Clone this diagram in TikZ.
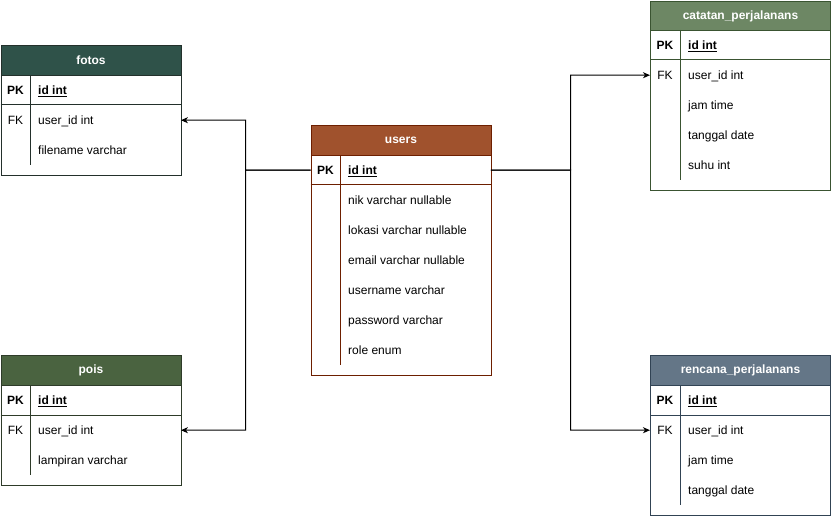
\documentclass[tikz,border=0pt]{standalone}
\usepackage{fontspec}
\setmainfont{Liberation Sans}
\usetikzlibrary{arrows.meta}
\definecolor{fotosH}{HTML}{2F5249}
\definecolor{fotosS}{HTML}{23302B}
\definecolor{poisH}{HTML}{4A6340}
\definecolor{poisS}{HTML}{2E3B29}
\definecolor{usersH}{HTML}{A0522D}
\definecolor{usersS}{HTML}{6D1F00}
\definecolor{catH}{HTML}{6D8764}
\definecolor{catS}{HTML}{3A5431}
\definecolor{renH}{HTML}{647687}
\definecolor{renS}{HTML}{314354}
\tikzset{
  every node/.style={font=\fontsize{12}{14}\selectfont, inner sep=0pt, text=black},
  tbl/.style={draw=#1, line width=1pt, minimum width=180pt, anchor=north west},
  hdr/.style={draw=#1, line width=1pt, minimum width=180pt, minimum height=30pt, anchor=north west},
  hdrtext/.style={text=white, font=\fontsize{12}{14}\selectfont\bfseries},
  rowbox/.style={minimum width=180pt, minimum height=30pt, anchor=north west},
  keylbl/.style={anchor=base},
  pklbl/.style={anchor=base, font=\fontsize{12}{14}\selectfont\bfseries},
  fld/.style={anchor=base west},
  sep/.style={draw=#1, line width=1pt},
  rel/.style={draw=black, line width=1pt, -{Stealth[length=7pt,width=6pt,inset=2pt]}}
}
\begin{document}
\begin{tikzpicture}[x=1pt,y=-1pt]
\useasboundingbox (0,0) rectangle (831,516);

% ---------- fotos ----------
\node[tbl=fotosS, fill=white, minimum height=130pt] (fotos) at (0.5,45) {};
\node[hdr=fotosS, fill=fotosH] (fotos-h) at (0.5,45) {};
\node[hdrtext] at (fotos-h.center) {fotos};
\node[rowbox] (fotos-pk) at (0.5,75) {};
\node[rowbox] (fotos-fk) at (0.5,105) {};
\draw[sep=fotosS] (0.5,105) -- (180.5,105);
\draw[sep=fotosS] (30.5,75) -- (30.5,165);
\node[pklbl] at (15.5,94.5) {PK};
\node[fld, font=\fontsize{12}{14}\selectfont\bfseries] at (38,94.5) {\underline{id int}};
\node[keylbl] at (15.5,124.5) {FK};
\node[fld] at (38,124.5) {user\_id int};
\node[fld] at (38,154.5) {filename varchar};

% ---------- pois ----------
\node[tbl=poisS, fill=white, minimum height=130pt] (pois) at (0.5,355) {};
\node[hdr=poisS, fill=poisH] (pois-h) at (0.5,355) {};
\node[hdrtext] at (pois-h.center) {pois};
\node[rowbox] (pois-pk) at (0.5,385) {};
\node[rowbox] (pois-fk) at (0.5,415) {};
\draw[sep=poisS] (0.5,415) -- (180.5,415);
\draw[sep=poisS] (30.5,385) -- (30.5,475);
\node[pklbl] at (15.5,404.5) {PK};
\node[fld, font=\fontsize{12}{14}\selectfont\bfseries] at (38,404.5) {\underline{id int}};
\node[keylbl] at (15.5,434.5) {FK};
\node[fld] at (38,434.5) {user\_id int};
\node[fld] at (38,464.5) {lampiran varchar};

% ---------- users ----------
\node[tbl=usersS, fill=white, minimum height=250pt] (users) at (310.5,125) {};
\node[hdr=usersS, fill=usersH] (users-h) at (310.5,125) {};
\node[hdrtext] at (users-h.center) {users};
\node[rowbox] (users-pk) at (310.5,155) {};
\draw[sep=usersS] (310.5,185) -- (490.5,185);
\draw[sep=usersS] (340.5,155) -- (340.5,365);
\node[pklbl] at (325.5,174.5) {PK};
\node[fld, font=\fontsize{12}{14}\selectfont\bfseries] at (348,174.5) {\underline{id int}};
\node[fld] at (348,204.5) {nik varchar nullable};
\node[fld] at (348,234.5) {lokasi varchar nullable};
\node[fld] at (348,264.5) {email varchar nullable};
\node[fld] at (348,294.5) {username varchar};
\node[fld] at (348,324.5) {password varchar};
\node[fld] at (348,354.5) {role enum};

% ---------- catatan_perjalanans ----------
\node[tbl=catS, fill=white, minimum height=189.5pt] (cat) at (650,1) {};
\node[hdr=catS, fill=catH, minimum height=29pt] (cat-h) at (650,1) {};
\node[hdrtext] at (cat-h.center) {catatan\_perjalanans};
\node[rowbox] (cat-pk) at (650,30) {};
\node[rowbox] (cat-fk) at (650,60) {};
\draw[sep=catS] (650,60) -- (830,60);
\draw[sep=catS] (680,30) -- (680,180);
\node[pklbl] at (665,49.5) {PK};
\node[fld, font=\fontsize{12}{14}\selectfont\bfseries] at (688,49.5) {\underline{id int}};
\node[keylbl] at (665,79.5) {FK};
\node[fld] at (688,79.5) {user\_id int};
\node[fld] at (688,109.5) {jam time};
\node[fld] at (688,139.5) {tanggal date};
\node[fld] at (688,169.5) {suhu int};

% ---------- rencana_perjalanans ----------
\node[tbl=renS, fill=white, minimum height=160pt] (ren) at (650,355) {};
\node[hdr=renS, fill=renH] (ren-h) at (650,355) {};
\node[hdrtext] at (ren-h.center) {rencana\_perjalanans};
\node[rowbox] (ren-pk) at (650,385) {};
\node[rowbox] (ren-fk) at (650,415) {};
\draw[sep=renS] (650,415) -- (830,415);
\draw[sep=renS] (680,385) -- (680,505);
\node[pklbl] at (665,404.5) {PK};
\node[fld, font=\fontsize{12}{14}\selectfont\bfseries] at (688,404.5) {\underline{id int}};
\node[keylbl] at (665,434.5) {FK};
\node[fld] at (688,434.5) {user\_id int};
\node[fld] at (688,464.5) {jam time};
\node[fld] at (688,494.5) {tanggal date};

% ---------- relations ----------
\coordinate (lj) at (245.5,170);
\coordinate (rj) at (570.5,170);
\draw[rel] (users-pk.west) -- (lj) |- (fotos-fk.east);
\draw[rel] (users-pk.west) -- (lj) |- (pois-fk.east);
\draw[rel] (users-pk.east) -- (rj) |- (cat-fk.west);
\draw[rel] (users-pk.east) -- (rj) |- (ren-fk.west);
\end{tikzpicture}
\end{document}
